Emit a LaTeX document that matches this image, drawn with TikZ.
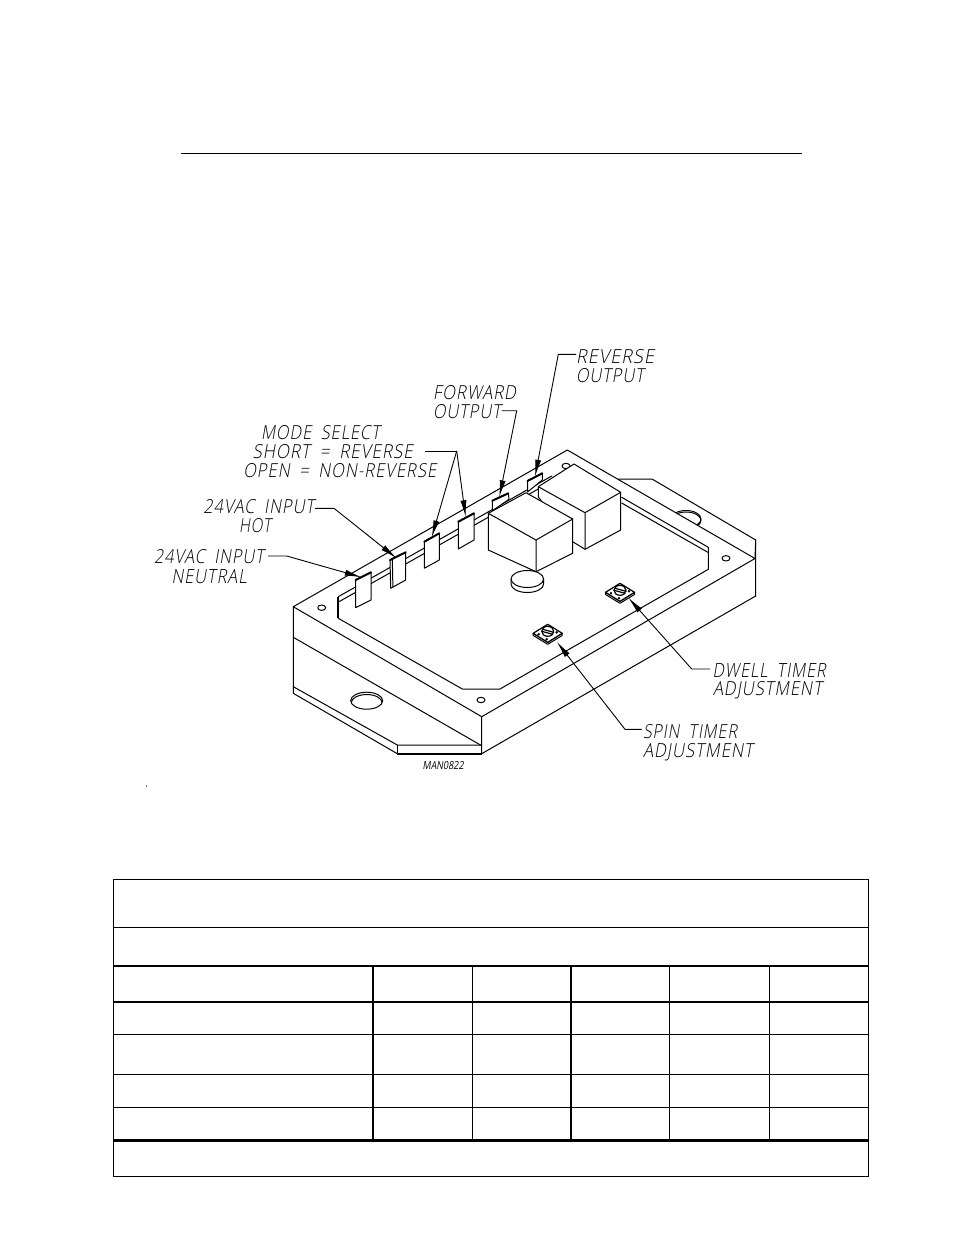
\documentclass[tikz,border=0pt]{standalone}
\usepackage{fontspec}
\usepackage{graphicx}
\usetikzlibrary{arrows.meta}
\newfontfamily\cadfont[FakeSlant=0.2,WordSpace=1.8,LetterSpace=6]{Open Sans Light}
\newfontfamily\cadsmall[FakeSlant=0.2]{Open Sans}
\tikzset{
  part/.style={draw=black,line width=1pt,line join=round,line cap=round},
  solid part/.style={part,fill=white},
  rulethin/.style={draw=black,line width=1pt},
  rulemid/.style={draw=black,line width=2pt},
  rulethick/.style={draw=black,line width=3pt},
  leader/.style={draw=black,line width=0.9pt},
  tipped/.style={leader,-{Latex[length=17pt,width=6pt]}},
  lbl/.style={inner sep=0pt,outer sep=0pt,anchor=base west},
  pot/.pic={
    \draw[solid part] (-14.5,0)--(-14.5,2.2)--(0,11)--(14.5,2.2)--(14.5,0)--(0,9)--cycle;
    \draw[solid part,line width=1.2pt] (-14.5,0)--(0,-9)--(14.5,0)--(0,9)--cycle;
    \draw[part,line width=1.2pt] (0,-2) ellipse[x radius=6,y radius=5];
    \draw[part,line width=1.2pt] (-6,-2)--(5,1) (-5,-4)--(6,-1);
    \fill (-9,1) circle[radius=1.4] (9,-1) circle[radius=1.4] (-1,6) circle[radius=1.4];
  }
}
\newcommand\lblnode[6]{\node[lbl] (#1) at (#2,#3) {\resizebox{#4pt}{#5pt}{\cadfont #6}};}
\newcommand\terminal[8]{\draw[solid part] (#1,#2)--(#3,#4)--(#5,#6)--(#7,#8)--cycle;
  \draw[black,line width=2pt,line cap=round] (#1,#2)--(#3,#4);}
\begin{document}
\begin{tikzpicture}[x=1pt,y=-1pt]
\useasboundingbox (0,0) rectangle (954,1235);
\fill[white] (0,0) rectangle (954,1235);

% heading rule and stray dot
\draw[rulethin] (181,153.5)--(802,153.5);
\fill (146.5,786) circle[radius=0.6];

% rear flange and its hole
\draw[solid part] (618,479)--(652,479)--(755.7,540)--(755.7,596);
\draw[part] (686,519) ellipse[x radius=15,y radius=8.5];
\draw[part] (686,520.5) ellipse[x radius=15,y radius=8.5];

% top plate
\draw[solid part] (293.3,606.7)--(567.3,450)--(755,558.5)--(481.7,716.7)--cycle;
\draw[part] (755,558.5)--(755.7,540);

% front faces
\draw[part] (293.3,606.7)--(293.3,693.3)--(397.3,753.7)--(481.7,753.7)--(481.7,716.7);
\draw[part] (293.3,637.3)--(481.7,745.7);
\draw[part] (293.3,686.7)--(397.3,745)--(481.7,745);
\draw[part] (397.3,745)--(397.3,753.7);
\draw[black,line width=2pt] (397.3,753.7)--(481.7,753.7);
\draw[part] (481.7,753.7)--(755.7,596);

% front flange hole
\draw[part] (366.7,700.7) ellipse[x radius=16,y radius=8.5];
\begin{scope}
  \clip (366.7,700.7) ellipse[x radius=16,y radius=8.5];
  \draw[part] (366.7,703) ellipse[x radius=15.5,y radius=8.5];
\end{scope}

% plate holes
\draw[part] (321.7,607.7) ellipse[x radius=4,y radius=2.7];
\draw[part] (481,700) ellipse[x radius=4,y radius=2.7];
\draw[part] (726,558.3) ellipse[x radius=4,y radius=2.7];
\draw[part] (566,466) ellipse[x radius=4,y radius=2.7];

% recess
\draw[part] (338.3,618.3)--(462.3,689)--(500,689)--(708.3,569.3)--(708.3,547.3)--(621.7,497.3);
\draw[part] (707.8,552.3)--(621.7,503);
\draw[black,line width=2pt] (338.3,596.7)--(338.3,618.3);
\draw[part] (338.3,596.7)--(551.7,476);
\draw[part] (339,601.7)--(540,488);

% terminals
\terminal{355.7}{580}{371}{572.3}{371}{600}{355.7}{607.7}
\terminal{390}{560}{405.7}{552.3}{405.7}{580}{390.7}{588.3}
\draw[part] (392.3,559)--(392.9,587);
\terminal{424.3}{541.7}{439.3}{533.3}{439.3}{560}{424.3}{568.3}
\terminal{458.3}{521.7}{474}{513.3}{474}{540}{458.3}{549}
\terminal{492.3}{500.7}{508.3}{493.3}{509}{499.3}{492.3}{510.7}
\terminal{527.5}{481}{542.3}{473.3}{542.3}{480}{527.5}{492}

% rear relay
\draw[solid part] (538.3,486.7)--(574,464)--(620.7,492.3)--(620.7,530)--(585,549.3)--(572.7,541.7)--(538.3,497)--cycle;
\draw[part] (538.3,486.7)--(585,512.7)--(620.7,492.3) (585,512.7)--(585,549.3);

% front relay
\draw[solid part] (488.3,513.3)--(526,492.7)--(572.7,519)--(572.7,553.3)--(536,571.7)--(488.3,550)--cycle;
\draw[part] (488.3,513.3)--(536,540)--(572.7,519) (536,540)--(536,571.7);

% capacitor
\draw[solid part] (511,579)--(511,584) arc[start angle=180,end angle=0,x radius=16.3,y radius=8.5]--(543.6,579);
\draw[solid part] (527.3,579) ellipse[x radius=16.3,y radius=8.5];

% trimmers
\pic at (620,592.3) {pot};
\pic at (547.7,633.3) {pot};

% labels
\lblnode{revA}{576}{363}{78}{14}{REVERSE}
\lblnode{revB}{576}{382}{68}{14}{OUTPUT}
\lblnode{fwdA}{433}{399}{83}{14}{FORWARD}
\lblnode{fwdB}{433}{418}{68}{14}{OUTPUT}
\lblnode{modeA}{261}{439}{119}{14}{MODE SELECT}
\lblnode{modeB}{252.7}{458}{160}{14}{SHORT = REVERSE}
\lblnode{modeC}{243.3}{477}{193}{14}{OPEN = NON-REVERSE}
\lblnode{hotA}{203.3}{513}{111}{14}{24VAC INPUT}
\lblnode{hotB}{239}{532}{32}{14}{HOT}
\lblnode{neuA}{154}{563.5}{110}{14}{24VAC INPUT}
\lblnode{neuB}{171.7}{583}{75}{14}{NEUTRAL}
\lblnode{dwellA}{712.7}{677}{113}{14}{DWELL TIMER}
\lblnode{dwellB}{713}{695.5}{109}{14}{ADJUSTMENT}
\lblnode{spinA}{643}{738.5}{94}{14}{SPIN TIMER}
\lblnode{spinB}{643}{757}{110}{14}{ADJUSTMENT}
\node[lbl] (man) at (422.7,769) {\resizebox{41pt}{8pt}{\cadsmall MAN0822}};

% leaders
\coordinate (neuTail) at (268,556);
\coordinate (neuBend) at (286.7,556);
\coordinate (neuTip) at (361.7,577.3);
\coordinate (hotTail) at (315,508.3);
\coordinate (hotBend) at (334,508.3);
\coordinate (hotTip) at (396.7,558.3);
\coordinate (modeTail) at (425,451);
\coordinate (modeBend) at (456.7,451);
\coordinate (modeTipA) at (431.7,537.3);
\coordinate (modeTipB) at (465.7,517.3);
\coordinate (fwdTail) at (501.7,410.7);
\coordinate (fwdBend) at (516.7,410.7);
\coordinate (fwdTip) at (499.3,497.3);
\coordinate (revTail) at (576,354.3);
\coordinate (revBend) at (558.3,354.3);
\coordinate (revTip) at (535,476.7);
\coordinate (dwellTail) at (710,669);
\coordinate (dwellBend) at (691.7,669);
\coordinate (dwellTip) at (628.3,597.7);
\coordinate (spinTail) at (641.7,729.3);
\coordinate (spinBend) at (625,729.3);
\coordinate (spinTip) at (556.7,641.7);
\draw[tipped] (neuTail)--(neuBend)--(neuTip);
\draw[tipped] (hotTail)--(hotBend)--(hotTip);
\draw[leader] (modeTail)--(modeBend);
\draw[tipped] (modeBend)--(modeTipA);
\draw[tipped] (modeBend)--(modeTipB);
\draw[tipped] (fwdTail)--(fwdBend)--(fwdTip);
\draw[tipped] (revTail)--(revBend)--(revTip);
\draw[tipped] (dwellTail)--(dwellBend)--(dwellTip);
\draw[tipped] (spinTail)--(spinBend)--(spinTip);

% table
\draw[rulethin] (113.5,879.5) rectangle (868,1176);
\draw[rulethin] (113.5,927.5)--(868,927.5);
\draw[rulemid] (113.5,966)--(868,966);
\draw[rulemid] (113.5,1001.5)--(868,1001.5);
\draw[rulethin] (113.5,1034.5)--(868,1034.5);
\draw[rulethin] (113.5,1074.5)--(868,1074.5);
\draw[rulethin] (113.5,1107.5)--(868,1107.5);
\draw[rulemid] (373,966)--(373,1140);
\draw[rulethin] (472,966)--(472,1140);
\draw[rulemid] (571,966)--(571,1140);
\draw[rulethin] (669.5,966)--(669.5,1140);
\draw[rulethin] (769.5,966)--(769.5,1140);
\draw[rulethick] (113.5,1140)--(868,1140);
\end{tikzpicture}
\end{document}
